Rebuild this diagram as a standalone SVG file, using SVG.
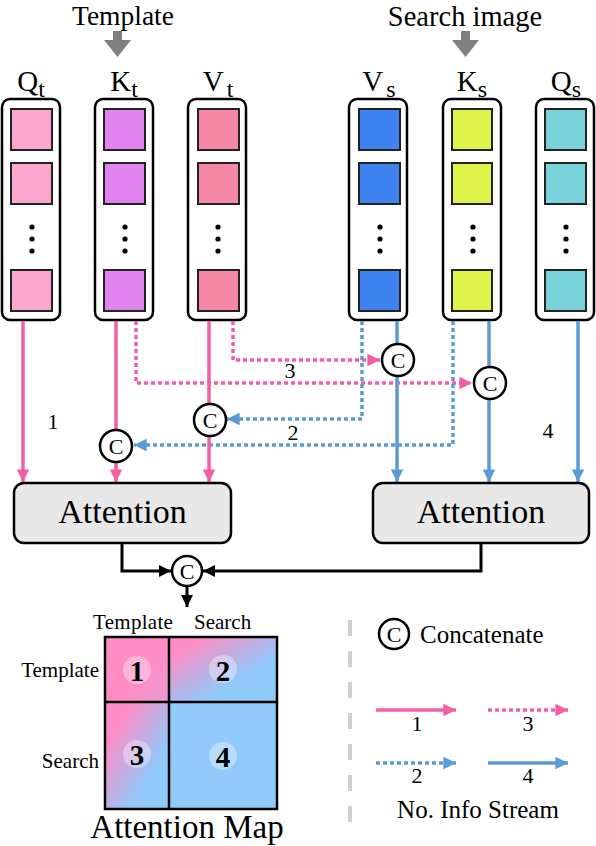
<svg xmlns="http://www.w3.org/2000/svg" width="596" height="846" viewBox="0 0 596 846" font-family="'Liberation Serif','Times New Roman',serif">
<style>
text{font-family:"Liberation Serif","Times New Roman",serif;fill:#000}
.col{fill:#fff;stroke:#000;stroke-width:2.5}
.sq{stroke:#222;stroke-width:2}
.dot{fill:#000}
.pk{stroke:#F25FA5;stroke-width:3.5;fill:none}
.bl{stroke:#5B9BD5;stroke-width:3.5;fill:none}
.dt{stroke-dasharray:4 3}
.blk{stroke:#000;stroke-width:3;fill:none}
.cc{fill:#fff;stroke:#000;stroke-width:2.5}
.ct{font-size:22px;text-anchor:middle}
.att{fill:#E8E8E8;stroke:#000;stroke-width:2.5}
.lbl{font-size:29px;text-anchor:middle}
.num{font-size:22px;text-anchor:middle}
.bn{font-size:29px;font-weight:bold;text-anchor:middle}
.nc{fill:#fff;fill-opacity:0.35}
</style>
<defs>
<marker id="ap" viewBox="0 0 10 10" refX="10" refY="5" markerWidth="3.6" markerHeight="3.6" markerUnits="strokeWidth" orient="auto"><path d="M0,0L10,5L0,10z" fill="#F25FA5"/></marker>
<marker id="ab" viewBox="0 0 10 10" refX="10" refY="5" markerWidth="3.6" markerHeight="3.6" markerUnits="strokeWidth" orient="auto"><path d="M0,0L10,5L0,10z" fill="#5B9BD5"/></marker>
<marker id="ak" viewBox="0 0 10 10" refX="10" refY="5" markerWidth="4" markerHeight="4" markerUnits="strokeWidth" orient="auto"><path d="M0,0L10,5L0,10z" fill="#000"/></marker>
<linearGradient id="g1" x1="0" y1="0" x2="1" y2="1"><stop offset="0.6" stop-color="#FF8DC5"/><stop offset="1" stop-color="#E59CD2"/></linearGradient>
<linearGradient id="g2" x1="0" y1="0" x2="1" y2="1"><stop offset="0.15" stop-color="#FF8DC5"/><stop offset="0.65" stop-color="#92C9FB"/></linearGradient>
<linearGradient id="g3" x1="0" y1="0" x2="1" y2="1"><stop offset="0.2" stop-color="#FF8DC5"/><stop offset="0.7" stop-color="#92C9FB"/></linearGradient>
</defs>

<g id="inputs">
<text x="123" y="25" font-size="27.5" text-anchor="middle">Template</text>
<path d="M113,31h9v9h9l-13.5,17l-13.5,-17h9z" fill="#808080"/>
<text x="465" y="26" font-size="28.5" text-anchor="middle">Search image</text>
<path d="M461,31h9v9h9l-13.5,17l-13.5,-17h9z" fill="#808080"/>
</g>

<g id="Qt">
<text class="lbl" x="31" y="91">Q<tspan font-size="24" dy="6">t</tspan></text>
<rect class="col" x="2" y="99" width="58" height="221" rx="8"/>
<rect class="sq" x="11" y="109" width="41" height="41" fill="#FBA6CC"/>
<rect class="sq" x="11" y="163" width="41" height="41" fill="#FBA6CC"/>
<circle class="dot" cx="32" cy="227" r="2.6"/><circle class="dot" cx="32" cy="239" r="2.6"/><circle class="dot" cx="32" cy="251" r="2.6"/>
<rect class="sq" x="11" y="270" width="41" height="41" fill="#FBA6CC"/>
</g>
<g id="Kt">
<text class="lbl" x="124" y="91">K<tspan font-size="24" dy="6">t</tspan></text>
<rect class="col" x="95" y="99" width="58" height="221" rx="8"/>
<rect class="sq" x="104" y="109" width="41" height="41" fill="#E183EE"/>
<rect class="sq" x="104" y="163" width="41" height="41" fill="#E183EE"/>
<circle class="dot" cx="125" cy="227" r="2.6"/><circle class="dot" cx="125" cy="239" r="2.6"/><circle class="dot" cx="125" cy="251" r="2.6"/>
<rect class="sq" x="104" y="270" width="41" height="41" fill="#E183EE"/>
</g>
<g id="Vt">
<text class="lbl" x="218" y="91">V<tspan font-size="24" dx="3" dy="6">t</tspan></text>
<rect class="col" x="188" y="99" width="58" height="221" rx="8"/>
<rect class="sq" x="198" y="109" width="41" height="41" fill="#F589A5"/>
<rect class="sq" x="198" y="163" width="41" height="41" fill="#F589A5"/>
<circle class="dot" cx="218" cy="227" r="2.6"/><circle class="dot" cx="218" cy="239" r="2.6"/><circle class="dot" cx="218" cy="251" r="2.6"/>
<rect class="sq" x="198" y="270" width="41" height="41" fill="#F589A5"/>
</g>
<g id="Vs">
<text class="lbl" x="379" y="91">V<tspan font-size="24" dx="3" dy="6">s</tspan></text>
<rect class="col" x="349" y="99" width="58" height="221" rx="8"/>
<rect class="sq" x="359" y="109" width="41" height="41" fill="#3F83F0"/>
<rect class="sq" x="359" y="163" width="41" height="41" fill="#3F83F0"/>
<circle class="dot" cx="380" cy="227" r="2.6"/><circle class="dot" cx="380" cy="239" r="2.6"/><circle class="dot" cx="380" cy="251" r="2.6"/>
<rect class="sq" x="359" y="270" width="41" height="41" fill="#3F83F0"/>
</g>
<g id="Ks">
<text class="lbl" x="472" y="91">K<tspan font-size="24" dy="6">s</tspan></text>
<rect class="col" x="443" y="99" width="58" height="221" rx="8"/>
<rect class="sq" x="452" y="109" width="40" height="41" fill="#DFF34A"/>
<rect class="sq" x="452" y="163" width="40" height="41" fill="#DFF34A"/>
<circle class="dot" cx="473" cy="227" r="2.6"/><circle class="dot" cx="473" cy="239" r="2.6"/><circle class="dot" cx="473" cy="251" r="2.6"/>
<rect class="sq" x="452" y="270" width="40" height="41" fill="#DFF34A"/>
</g>
<g id="Qs">
<text class="lbl" x="566" y="91">Q<tspan font-size="24" dy="6">s</tspan></text>
<rect class="col" x="536" y="99" width="58" height="221" rx="8"/>
<rect class="sq" x="545" y="109" width="41" height="41" fill="#7AD3DA"/>
<rect class="sq" x="545" y="163" width="41" height="41" fill="#7AD3DA"/>
<circle class="dot" cx="566" cy="227" r="2.6"/><circle class="dot" cx="566" cy="239" r="2.6"/><circle class="dot" cx="566" cy="251" r="2.6"/>
<rect class="sq" x="545" y="270" width="41" height="41" fill="#7AD3DA"/>
</g>

<g id="connectors">
<path class="pk dt" d="M136,321V383H472" marker-end="url(#ap)"/>
<path class="pk dt" d="M233,321V360H380" marker-end="url(#ap)"/>
<path class="bl dt" d="M362,321V419H227" marker-end="url(#ab)"/>
<path class="bl dt" d="M453,321V445H134" marker-end="url(#ab)"/>
<path class="pk" d="M23,321V482" marker-end="url(#ap)"/>
<path class="pk" d="M116,321V482" marker-end="url(#ap)"/>
<path class="pk" d="M209,321V482" marker-end="url(#ap)"/>
<path class="bl" d="M397,321V482" marker-end="url(#ab)"/>
<path class="bl" d="M489,321V482" marker-end="url(#ab)"/>
<path class="bl" d="M578,321V482" marker-end="url(#ab)"/>
<path class="blk" d="M122,543V571H171" marker-end="url(#ak)"/>
<path class="blk" d="M481,543V571H203" marker-end="url(#ak)"/>
<path class="blk" d="M187,586V607" marker-end="url(#ak)"/>
<text class="num" x="53" y="429">1</text>
<text class="num" x="293" y="440">2</text>
<text class="num" x="290" y="378">3</text>
<text class="num" x="548" y="438">4</text>
</g>

<g id="concat1"><circle class="cc" cx="116" cy="446" r="16"/><text class="ct" x="116" y="454">C</text></g>
<g id="concat2"><circle class="cc" cx="210" cy="420" r="16"/><text class="ct" x="210" y="428">C</text></g>
<g id="concat3"><circle class="cc" cx="398" cy="360" r="16"/><text class="ct" x="398" y="368">C</text></g>
<g id="concat4"><circle class="cc" cx="490" cy="383" r="16"/><text class="ct" x="490" y="391">C</text></g>
<g id="concat5"><circle class="cc" cx="187" cy="571" r="15"/><text class="ct" x="187" y="579">C</text></g>

<g id="attnT">
<rect class="att" x="14" y="483" width="217" height="60" rx="10"/>
<text x="122.5" y="523" font-size="34" text-anchor="middle">Attention</text>
</g>
<g id="attnS">
<rect class="att" x="373" y="483" width="216" height="60" rx="10"/>
<text x="481" y="523" font-size="34" text-anchor="middle">Attention</text>
</g>

<g id="map">
<text x="93" y="629" font-size="21" letter-spacing="0.3">Template</text>
<text x="194" y="629" font-size="21">Search</text>
<text x="99" y="677" font-size="21" text-anchor="end">Template</text>
<text x="99" y="768" font-size="21" text-anchor="end">Search</text>
<rect x="105" y="637" width="64" height="65" fill="url(#g1)"/>
<rect x="169" y="637" width="108" height="65" fill="url(#g2)"/>
<rect x="105" y="702" width="64" height="107" fill="url(#g3)"/>
<rect x="169" y="702" width="108" height="107" fill="#92C9FB"/>
<path d="M105,637H277V809H105z M169,637V809 M105,702H277" fill="none" stroke="#000" stroke-width="2.5"/>
<circle class="nc" cx="137" cy="670" r="14"/>
<circle class="nc" cx="223" cy="669" r="14"/>
<circle class="nc" cx="137" cy="754" r="14"/>
<circle class="nc" cx="223" cy="756" r="14"/>
<text class="bn" x="137" y="681">1</text>
<text class="bn" x="223" y="681">2</text>
<text class="bn" x="137" y="765">3</text>
<text class="bn" x="223" y="767">4</text>
<text x="187" y="838" font-size="33" text-anchor="middle">Attention Map</text>
</g>

<g id="legend">
<path d="M350,620V822" stroke="#D0D0D0" stroke-width="4" stroke-dasharray="16 15"/>
<circle class="cc" cx="394" cy="634" r="15"/><text class="ct" x="394" y="642">C</text>
<text x="420" y="643" font-size="25">Concatenate</text>
<path class="pk" d="M376,710H456" marker-end="url(#ap)"/>
<path class="pk dt" d="M488,710H568" marker-end="url(#ap)"/>
<path class="bl dt" d="M376,763H456" marker-end="url(#ab)"/>
<path class="bl" d="M488,763H568" marker-end="url(#ab)"/>
<text class="num" x="417" y="731">1</text>
<text class="num" x="528" y="731">3</text>
<text class="num" x="417" y="783">2</text>
<text class="num" x="528" y="783">4</text>
<text x="478" y="818" font-size="25" text-anchor="middle">No. Info Stream</text>
</g>
</svg>
